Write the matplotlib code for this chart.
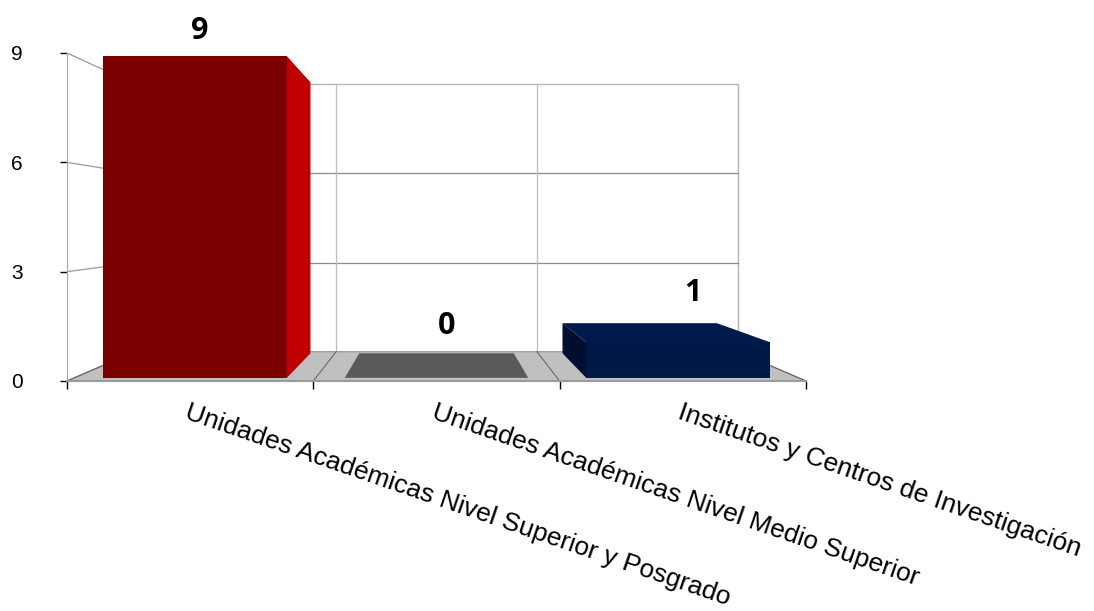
# Excel-style 3D column chart rebuilt with plain matplotlib patches

import numpy as np
import matplotlib.pyplot as plt
from matplotlib.patches import Polygon

# ----- DATA --------------------------------------------------------------
categories = ['Unidades Académicas Nivel Superior y Posgrado',
              'Unidades Académicas Nivel Medio Superior',
              'Institutos y Centros de Investigación']
values = [9, 0, 1]
yticks = [0, 3, 6, 9]

# ----- STYLE / PERSPECTIVE -----------------------------------------------
front_col = ['#7a0000', '#5a5a5a', '#001845']
side_col = ['#c00000', '#5a5a5a', '#000f30']
top_col = ['#8a0000', '#5a5a5a', '#001a4e']
bar_w = 0.76
s_back = 0.815        # scale of the back wall
s_front_bar = 0.98    # depth of bar front faces
s_back_bar = 0.825    # depth of bar back faces
vx, vy = 1.5, 4.35    # vanishing point in data units

def proj(x, v, s):
    return (vx + (x - vx) * s, vy + (v - vy) * s)

fig = plt.figure(figsize=(10.94, 6.11), dpi=100)
W, H = 1094, 611
ax = fig.add_axes([67 / W, 1 - 381 / H, (806 - 67) / W, (381 - 53) / H])
ax.set_xlim(0, len(values))
ax.set_ylim(0, 9)
ax.patch.set_alpha(0)

def poly(pts, fc, ec='none', lw=0, z=1):
    ax.add_patch(Polygon(pts, closed=True, facecolor=fc, edgecolor=ec,
                         linewidth=lw, zorder=z, clip_on=False))

def line(p, q, c, lw=0.9, z=2):
    ax.plot([p[0], q[0]], [p[1], q[1]], color=c, lw=lw, zorder=z, clip_on=False)

n = len(values)
ymax = yticks[-1]

# back wall
poly([proj(0, 0, s_back), proj(n, 0, s_back), proj(n, ymax, s_back), proj(0, ymax, s_back)],
     'white', '#b5b5b5', 1.0, z=1)
for t in yticks[1:-1]:
    line(proj(0, t, s_back), proj(n, t, s_back), '#8c8c8c')
for k in range(1, n):
    line(proj(k, 0, s_back), proj(k, ymax, s_back), '#bdbdbd')
# left wall lines
for t in yticks:
    line((0, t), proj(0, t, s_back), '#9a9a9a')

# floor
poly([(0, 0), (n, 0), proj(n, 0, s_back), proj(0, 0, s_back)], '#c0c0c0', '#a0a0a0', 1.0, z=3)
for k in range(0, n + 1):
    line((k, 0), proj(k, 0, s_back), '#5f5f5f', lw=0.7, z=3)
line((0, 0), (n, 0), '#9a9a9a', lw=1.5, z=3)

# bars
for i, v in enumerate(values):
    x0, x1 = i + 0.5 - bar_w / 2, i + 0.5 + bar_w / 2
    fb = [proj(x0, 0, s_front_bar), proj(x1, 0, s_front_bar)]
    ft = [proj(x1, v, s_front_bar), proj(x0, v, s_front_bar)]
    bt = [proj(x1, v, s_back_bar), proj(x0, v, s_back_bar)]
    bb = [proj(x0, 0, s_back_bar), proj(x1, 0, s_back_bar)]
    if v == 0:
        poly([fb[0], fb[1], bb[1], bb[0]], top_col[i], z=4)
        continue
    # top face
    poly([ft[1], ft[0], bt[0], bt[1]], top_col[i], z=4)
    # visible side face
    if x1 < vx:
        poly([fb[1], bb[1], bt[0], ft[0]], side_col[i], z=4)
    elif x0 > vx:
        poly([fb[0], bb[0], bt[1], ft[1]], side_col[i], z=4)
    # front face
    poly([fb[0], fb[1], ft[0], ft[1]], front_col[i], z=5)

# value labels
for i, v in enumerate(values):
    px, py = proj(i + 0.5, v, 0.9)
    ax.annotate(str(v), xy=(i + 0.5, py), xytext=(7, 28), textcoords='offset points',
                ha='center', va='center', fontsize=22, fontweight='bold',
                family='Open Sans', zorder=6, annotation_clip=False)

# axes
for side in ['top', 'right', 'bottom']:
    ax.spines[side].set_visible(False)
ax.spines['left'].set_color('#a6a6a6')
ax.spines['left'].set_zorder(2)
ax.set_yticks(yticks)
ax.tick_params(axis='y', length=5, width=1, color='black', pad=27,
               labelsize=15, labelfontfamily='Liberation Sans')
ax.set_xticks(range(n + 1))
ax.set_xticklabels([])
ax.tick_params(axis='x', which='major', length=6, width=1, color='black')
ax.set_xticks([i + 0.5 for i in range(n)], minor=True)
ax.set_xticklabels(categories, minor=True, rotation=-19, rotation_mode='anchor',
                   ha='left', va='top', fontsize=19, family='Liberation Sans')
ax.tick_params(axis='x', which='minor', length=0, pad=14)

fig.savefig('out.png', dpi=100)
